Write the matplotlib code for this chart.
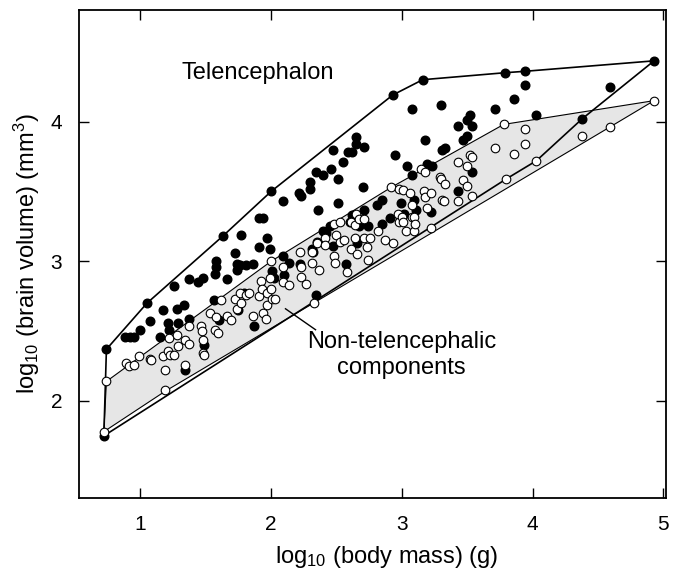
import matplotlib
matplotlib.use("Agg")
import matplotlib.pyplot as plt

plt.rcParams['font.family'] = ['Liberation Sans', 'DejaVu Sans']
plt.rcParams['mathtext.fontset'] = 'custom'
plt.rcParams['mathtext.rm'] = 'Liberation Sans'
plt.rcParams['mathtext.it'] = 'Liberation Sans:italic'

# telencephalon volumes (filled dots), log10 body mass vs log10 volume
tel_x = [0.72, 0.74, 0.88, 0.92, 0.95, 1.00, 1.05, 1.07, 1.17, 1.15, 1.21, 1.22, 1.26, 1.28,
         1.29, 1.33, 1.34, 1.37, 1.37, 1.44, 1.48, 1.49, 1.56, 1.57, 1.58, 1.58, 1.60, 1.63,
         1.66, 1.72, 1.74, 1.76, 1.74, 1.77, 1.81, 1.75, 1.79, 1.87, 1.86, 1.91, 1.91, 1.94,
         1.97, 1.99, 2.00, 2.01, 2.02, 2.09, 2.09, 2.10, 2.14, 2.22, 2.23, 2.21, 2.30, 2.30,
         2.32, 2.31, 2.34, 2.40, 2.36, 2.34, 2.35, 2.42, 2.40, 2.45, 2.46, 2.47, 2.47, 2.51,
         2.51, 2.55, 2.57, 2.59, 2.62, 2.65, 2.65, 2.71, 2.66, 2.60, 2.62, 2.67, 2.71, 2.70,
         2.74, 2.81, 2.85, 2.85, 2.91, 2.93, 2.95, 2.99, 3.02, 3.04, 3.08, 3.08, 3.09, 3.11,
         3.16, 3.18, 3.19, 3.22, 3.23, 3.30, 3.31, 3.33, 3.43, 3.43, 3.47, 3.50, 3.50, 3.52,
         3.54, 3.54, 3.71, 3.79, 3.86, 3.94, 3.94, 4.03, 4.38, 4.59, 4.93]
tel_y = [1.75, 2.37, 2.46, 2.46, 2.46, 2.51, 2.70, 2.57, 2.65, 2.46, 2.56, 2.51, 2.82, 2.66,
         2.56, 2.69, 2.22, 2.87, 2.59, 2.85, 2.88, 2.40, 2.72, 2.91, 3.00, 2.96, 2.58, 3.18,
         2.87, 3.06, 2.98, 2.97, 2.94, 3.19, 2.97, 2.65, 2.77, 2.54, 2.98, 3.10, 3.31, 3.31,
         3.17, 3.09, 3.50, 2.93, 2.88, 3.43, 3.04, 2.90, 2.99, 2.98, 3.47, 3.49, 3.57, 3.52,
         3.07, 3.09, 3.64, 3.62, 3.37, 2.76, 3.14, 3.20, 3.22, 3.25, 3.66, 3.80, 3.11, 3.59,
         3.42, 3.71, 2.98, 3.78, 3.78, 3.89, 3.84, 3.82, 3.13, 3.28, 3.33, 3.25, 3.37, 3.53,
         3.25, 3.40, 3.44, 3.27, 3.31, 4.19, 3.76, 3.42, 3.34, 3.68, 3.62, 4.09, 3.44, 3.37,
         4.30, 3.87, 3.70, 3.35, 3.68, 4.12, 3.80, 3.81, 3.97, 3.50, 3.87, 3.90, 4.01, 4.05,
         3.97, 3.64, 4.09, 4.35, 4.16, 4.36, 4.26, 4.05, 4.02, 4.25, 4.435]

# non-telencephalic components (open circles)
non_x = [0.72, 0.74, 0.89, 0.91, 0.95, 0.99, 1.07, 1.08, 1.17, 1.19, 1.19, 1.21, 1.22, 1.23,
         1.26, 1.28, 1.29, 1.34, 1.34, 1.37, 1.37, 1.46, 1.47, 1.48, 1.48, 1.49, 1.53, 1.57,
         1.59, 1.58, 1.62, 1.66, 1.69, 1.72, 1.74, 1.77, 1.76, 1.81, 1.83, 1.86, 1.91, 1.92,
         1.93, 1.94, 1.96, 1.97, 1.97, 1.99, 2.00, 2.00, 2.01, 2.03, 2.09, 2.09, 2.14, 2.22,
         2.23, 2.23, 2.27, 2.31, 2.31, 2.33, 2.35, 2.37, 2.41, 2.41, 2.48, 2.48, 2.49, 2.50,
         2.53, 2.53, 2.56, 2.58, 2.61, 2.61, 2.64, 2.64, 2.65, 2.66, 2.67, 2.71, 2.71, 2.73,
         2.74, 2.76, 2.82, 2.87, 2.92, 2.93, 2.97, 2.98, 2.98, 3.00, 3.01, 3.01, 3.03, 3.06,
         3.08, 3.08, 3.09, 3.09, 3.10, 3.15, 3.17, 3.18, 3.18, 3.19, 3.22, 3.22, 3.29, 3.30,
         3.31, 3.32, 3.33, 3.43, 3.43, 3.47, 3.50, 3.50, 3.52, 3.54, 3.54, 3.71, 3.78, 3.80,
         3.86, 3.94, 3.94, 4.03, 4.38, 4.59, 4.93]
non_y = [1.78, 2.14, 2.27, 2.25, 2.26, 2.32, 2.30, 2.29, 2.32, 2.22, 2.08, 2.36, 2.45, 2.33,
         2.33, 2.47, 2.39, 2.44, 2.26, 2.41, 2.54, 2.54, 2.50, 2.44, 2.34, 2.33, 2.63, 2.51,
         2.49, 2.60, 2.72, 2.61, 2.58, 2.73, 2.66, 2.70, 2.77, 2.76, 2.77, 2.61, 2.75, 2.86,
         2.80, 2.63, 2.59, 2.69, 2.77, 2.88, 3.00, 2.80, 2.73, 2.73, 2.96, 2.85, 2.83, 3.07,
         2.89, 2.96, 2.84, 2.99, 3.07, 2.70, 3.13, 2.94, 3.17, 3.12, 3.27, 3.04, 2.99, 3.19,
         3.28, 3.14, 3.15, 2.92, 3.28, 3.09, 3.26, 3.17, 3.34, 3.05, 3.30, 3.17, 3.30, 3.10,
         3.01, 3.17, 3.22, 3.15, 3.53, 3.13, 3.34, 3.28, 3.52, 3.32, 3.28, 3.51, 3.22, 3.49,
         3.40, 3.32, 3.32, 3.22, 3.27, 3.66, 3.50, 3.64, 3.46, 3.38, 3.49, 3.24, 3.60, 3.59,
         3.44, 3.43, 3.55, 3.71, 3.43, 3.58, 3.68, 3.54, 3.76, 3.75, 3.47, 3.81, 3.98, 3.59,
         3.77, 3.95, 3.84, 3.72, 3.90, 3.96, 4.15]

# outline polygons around each group
tel_hull_x = [0.72, 0.74, 1.05, 1.63, 2.00, 2.93, 3.16, 3.79, 3.94, 4.93, 4.38, 4.03, 3.80, 0.72]
tel_hull_y = [1.75, 2.37, 2.70, 3.18, 3.50, 4.19, 4.30, 4.35, 4.36, 4.435, 4.02, 3.72, 3.59, 1.75]
non_hull_x = [0.72, 0.74, 2.00, 2.92, 3.78, 4.93, 4.59, 1.19, 0.72]
non_hull_y = [1.78, 2.14, 3.00, 3.53, 3.98, 4.15, 3.96, 2.07, 1.78]

fig = plt.figure(figsize=(6.85, 5.71), dpi=100)
ax = fig.add_axes([0.1153, 0.128, 0.8567, 0.854])

# shaded region for non-telencephalic, open outline for telencephalon
ax.fill(non_hull_x, non_hull_y, facecolor='#e6e6e6', edgecolor='black', linewidth=0.8, zorder=1)
ax.plot(tel_hull_x, tel_hull_y, color='black', linewidth=1.2, zorder=2)

ax.plot(tel_x, tel_y, 'o', color='black', markersize=6.2, zorder=3)
ax.plot(non_x, non_y, 'o', markerfacecolor='white', markeredgecolor='black',
        markeredgewidth=0.8, markersize=6.2, zorder=4)

ax.text(1.9, 4.35, 'Telencephalon', fontsize=17, ha='center', va='center')
ax.text(3.0, 2.33, 'Non-telencephalic\ncomponents', fontsize=17, ha='center', va='center',
        linespacing=1.2)
ax.plot([2.11, 2.34], [2.66, 2.51], color='black', linewidth=1.0, zorder=5)

ax.set_xlim(0.53, 5.02)
ax.set_ylim(1.306, 4.797)
ax.set_xticks([1, 2, 3, 4, 5])
ax.set_yticks([2, 3, 4])
ax.tick_params(direction='in', length=7, width=1.0, top=True, right=True,
               labelsize=15, pad=12)
for s in ax.spines.values():
    s.set_linewidth(1.3)

ax.set_xlabel(r'log$_{10}$ (body mass) (g)', fontsize=17, labelpad=4)
ax.xaxis.set_label_coords(0.525, -0.095)
ax.set_ylabel(r'log$_{10}$ (brain volume) (mm$^3$)', fontsize=17, labelpad=6)

fig.savefig('out.png', dpi=100)
